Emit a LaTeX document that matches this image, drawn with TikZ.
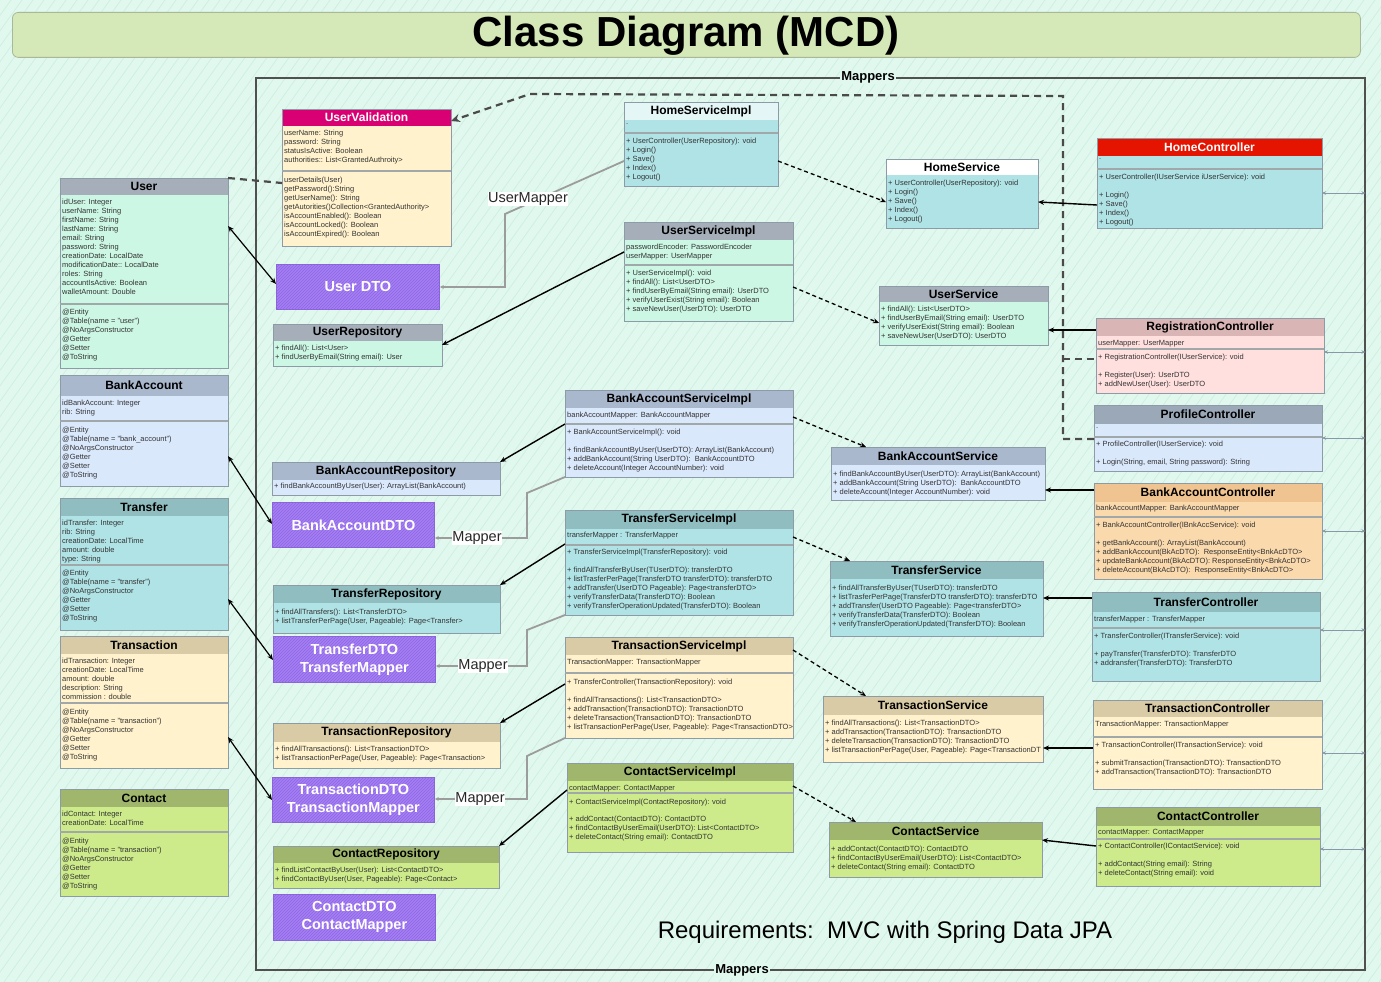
\documentclass[tikz,border=0pt]{standalone}
\usepackage{fontspec}
\setmainfont{Liberation Sans}
\usetikzlibrary{arrows.meta,patterns,calc}

\definecolor{cBg}{HTML}{E1F8EF}
\definecolor{cBgL}{HTML}{CDEFE0}
\definecolor{cTitle}{HTML}{D5E8B8}
\definecolor{cTitleB}{HTML}{A8B898}
\definecolor{cBorder}{HTML}{8C9BA5}
\definecolor{cSep}{HTML}{A0A8AA}
\definecolor{cText}{HTML}{333333}
\definecolor{cGreyH}{HTML}{A5AEB9}
\definecolor{cBlueH}{HTML}{A9B8CD}
\definecolor{cSlateH}{HTML}{9AA8B7}
\definecolor{cTealH}{HTML}{90BDBF}
\definecolor{cTanH}{HTML}{D9CBA5}
\definecolor{cOliveH}{HTML}{9FB66C}
\definecolor{cOrangeH}{HTML}{F0C490}
\definecolor{cPinkH}{HTML}{D9B6B5}
\definecolor{cRed}{HTML}{E51400}
\definecolor{cMag}{HTML}{D80073}
\definecolor{cHsiH}{HTML}{E4F6F6}
\definecolor{bMint}{HTML}{CDF7E5}
\definecolor{bBlue}{HTML}{DAE8FC}
\definecolor{bCyan}{HTML}{B0E3E6}
\definecolor{bYellow}{HTML}{FFF2CC}
\definecolor{bGreen}{HTML}{CDEB8B}
\definecolor{bOrange}{HTML}{FAD9AD}
\definecolor{bPink}{HTML}{FFE0DF}
\definecolor{cDto}{HTML}{A47EF3}
\definecolor{cDtoL}{HTML}{8F66E6}
\definecolor{cDtoB}{HTML}{8A64D6}
\definecolor{cDark}{HTML}{4A4A4A}
\definecolor{cMapL}{HTML}{9C9C9C}
\definecolor{cRArr}{HTML}{8898A8}
\definecolor{cFrame}{HTML}{505050}

\tikzset{
  boxborder/.style={draw=cBorder, line width=0.6pt},
  hdr/.style={anchor=north west, inner sep=0pt, outer sep=0pt, font=\fontsize{12}{13}\selectfont\bfseries, text=black},
  bodytxt/.style={anchor=north west, inner sep=0pt, align=left, font=\fontsize{7.5}{9}\selectfont, text=cText},
  sepst/.style={draw=cSep, line width=1.3pt},
  dto/.style={anchor=north west, draw=cDtoB, line width=0.8pt, fill=cDto,
    postaction={pattern=north east lines, pattern color=cDtoL},
    text=white, font=\fontsize{14.5}{18}\selectfont\bfseries, align=center, inner sep=0pt},
  dbl/.style={{Stealth[length=6pt,width=5pt]}-{Stealth[length=6pt,width=5pt]}, line width=1.2pt, draw=black},
  dep/.style={-{Stealth[length=6pt,width=5pt]}, dash pattern=on 4pt off 3pt, line width=1.3pt, draw=black},
  assoc/.style={-{Stealth[length=6pt,width=5pt]}, line width=1.4pt, draw=black},
  bigdash/.style={draw=cDark, line width=2.2pt, dash pattern=on 7pt off 5pt},
  mapline/.style={draw=cMapL, line width=1.8pt, -{Stealth[length=4pt,width=4pt]}},
  maplab/.style={fill=white, inner sep=0.5pt, font=\fontsize{14.5}{16}\selectfont, text=black!85},
  rarrow/.style={draw=cRArr, line width=1pt, {Stealth[length=4pt,width=3.5pt]}-{Stealth[length=4pt,width=3.5pt]}},
}

% name x1 y1 x2 y2 headerbottom headerstyle bodycolor title
\newcommand\umlcls[9]{%
  \node[fill=#8, anchor=north west, inner sep=0pt, outer sep=0pt,
        minimum width={(#4-#2)*1pt}, minimum height={(#5-#3)*1pt}] (#1) at (#2,#3) {};
  \node[hdr, #7, minimum width={(#4-#2)*1pt}, minimum height={(#6-#3)*1pt}] (#1-h) at (#2,#3) {#9};
  \draw[boxborder] (#1.north west) rectangle (#1.south east);
}
\newcommand\umltxt[4]{\node[bodytxt] (#1) at (#2+2,#3-3.2) {#4};}
\newcommand\umlsep[3]{\draw[sepst] (#1,#3) -- (#2,#3);}
\newcommand\umldto[6]{\node[dto, minimum width={(#4-#2)*1pt}, minimum height={(#5-#3)*1pt}] (#1) at (#2,#3) {#6};}

\begin{document}
\begin{tikzpicture}[x=1pt,y=-1pt]
\useasboundingbox (0,0) rectangle (1381,982);
\fill[cBg] (0,0) rectangle (1381,982);
\begin{scope}
  \clip (0,0) rectangle (1381,982);
  \foreach \i in {0,11,...,2100} {\draw[cBgL, line width=0.7pt] (\i-700,982) -- (\i,0);}
\end{scope}

% title
\node[draw=cTitleB, line width=0.8pt, fill=cTitle, rounded corners=6pt, anchor=north west,
      minimum width=1348pt, minimum height=45pt, inner sep=0pt] (title) at (12,12) {};
\node[font=\fontsize{42}{46}\selectfont\bfseries] (titletext) at (686,36) {Class Diagram (MCD)};

% frame
\node[draw=cFrame, line width=1.5pt, anchor=north west, inner sep=0pt,
      minimum width=1109pt, minimum height=892pt] (frame) at (255,77) {};

% ---------- entities ----------
\umlcls{user}{60}{178}{228}{368}{195}{fill=cGreyH}{bMint}{User}
\umltxt{user-a}{60}{202}{idUser: Integer\\userName: String\\firstName: String\\lastName: String\\email: String\\password: String\\creationDate: LocalDate\\modificationDate:: LocalDate\\roles: String\\accountIsActive: Boolean\\walletAmount: Double}
\umlsep{60}{228}{304}
\umltxt{user-b}{60}{312}{@Entity\\@Table(name = "user")\\@NoArgsConstructor\\@Getter\\@Setter\\@ToString}

\umlcls{ba}{60}{375}{228}{486}{396}{fill=cBlueH}{bBlue}{BankAccount}
\umltxt{ba-a}{60}{403}{idBankAccount: Integer\\rib: String}
\umlsep{60}{228}{421}
\umltxt{ba-b}{60}{430}{@Entity\\@Table(name = "bank\_account")\\@NoArgsConstructor\\@Getter\\@Setter\\@ToString}

\umlcls{tr}{60}{498}{228}{630}{516}{fill=cTealH}{bCyan}{Transfer}
\umltxt{tr-a}{60}{523}{idTransfer: Integer\\rib: String\\creationDate: LocalTime\\amount: double\\type: String}
\umlsep{60}{228}{565}
\umltxt{tr-b}{60}{573}{@Entity\\@Table(name = "transfer")\\@NoArgsConstructor\\@Getter\\@Setter\\@ToString}

\umlcls{tx}{60}{636}{228}{768}{654}{fill=cTanH}{bYellow}{Transaction}
\umltxt{tx-a}{60}{661}{idTransaction: Integer\\creationDate: LocalTime\\amount: double\\description: String\\commission : double}
\umlsep{60}{228}{703}
\umltxt{tx-b}{60}{712}{@Entity\\@Table(name = "transaction")\\@NoArgsConstructor\\@Getter\\@Setter\\@ToString}

\umlcls{ct}{60}{789}{228}{896}{807}{fill=cOliveH}{bGreen}{Contact}
\umltxt{ct-a}{60}{814}{idContact: Integer\\creationDate: LocalTime}
\umlsep{60}{228}{832}
\umltxt{ct-b}{60}{841}{@Entity\\@Table(name = "transaction")\\@NoArgsConstructor\\@Getter\\@Setter\\@ToString}

% ---------- user column ----------
\umlcls{uval}{282}{109}{451}{246}{126}{fill=cMag,text=white}{bYellow}{UserValidation}
\umltxt{uval-a}{282}{133}{userName: String\\password: String\\statusIsActive: Boolean\\authorities:: List<GrantedAuthroity>}
\umlsep{282}{451}{171}
\umltxt{uval-b}{282}{180}{userDetails(User)\\getPassword():String\\getUserName(): String\\getAutorities()Collection<GrantedAuthority>\\isAccountEnabled(): Boolean\\isAccountLocked(): Boolean\\isAccountExpired(): Boolean}

\umldto{udto}{276}{264}{439}{309}{User DTO}

\umlcls{urepo}{273}{324}{442}{366}{341}{fill=cGreyH}{bMint}{UserRepository}
\umltxt{urepo-a}{273}{348}{+ findAll(): List<User>\\+ findUserByEmail(String email): User}

\umlcls{hsi}{624}{102}{778}{186}{120}{fill=cHsiH}{bCyan}{HomeServiceImpl}
\umltxt{hsi-a}{624}{127}{.}
\umlsep{624}{778}{133}
\umltxt{hsi-b}{624}{141}{+ UserController(UserRepository): void\\+ Login()\\+ Save()\\+ Index()\\+ Logout()}

\umlcls{usi}{624}{222}{793}{321}{240}{fill=cGreyH}{bMint}{UserServiceImpl}
\umltxt{usi-a}{624}{247}{passwordEncoder: PasswordEncoder\\userMapper: UserMapper}
\umlsep{624}{793}{265}
\umltxt{usi-b}{624}{273}{+ UserServiceImpl(): void\\+ findAll(): List<UserDTO>\\+ findUserByEmail(String email): UserDTO\\+ verifyUserExist(String email): Boolean\\+ saveNewUser(UserDTO): UserDTO}

\umlcls{hs}{886}{159}{1038}{228}{175}{fill=white}{bCyan}{HomeService}
\umltxt{hs-a}{886}{183}{+ UserController(UserRepository): void\\+ Login()\\+ Save()\\+ Index()\\+ Logout()}

\umlcls{hc}{1097}{138}{1322}{228}{156}{fill=cRed,text=white}{bCyan}{HomeController}
\umltxt{hc-a}{1097}{162}{.}
\umlsep{1097}{1322}{169}
\umltxt{hc-b}{1097}{177}{+ UserController(IUserService iUserService): void\\[9pt]+ Login()\\+ Save()\\+ Index()\\+ Logout()}

\umlcls{us}{879}{286}{1048}{345}{302}{fill=cGreyH}{bMint}{UserService}
\umltxt{us-a}{879}{309}{+ findAll(): List<UserDTO>\\+ findUserByEmail(String email): UserDTO\\+ verifyUserExist(String email): Boolean\\+ saveNewUser(UserDTO): UserDTO}

\umlcls{rc}{1096}{318}{1324}{393}{336}{fill=cPinkH}{bPink}{RegistrationController}
\umltxt{rc-a}{1096}{343}{userMapper: UserMapper}
\umlsep{1096}{1324}{349}
\umltxt{rc-b}{1096}{357}{+ RegistrationController(IUserService): void\\[9pt]+ Register(User): UserDTO\\+ addNewUser(User): UserDTO}

% ---------- bank account ----------
\umlcls{basi}{565}{390}{793}{477}{408}{fill=cBlueH}{bBlue}{BankAccountServiceImpl}
\umltxt{basi-a}{565}{415}{bankAccountMapper: BankAccountMapper}
\umlsep{565}{793}{424}
\umltxt{basi-b}{565}{432}{+ BankAccountServiceImpl(): void\\[9pt]+ findBankAccountByUser(UserDTO): ArrayList(BankAccount)\\+ addBankAccount(String UserDTO):\ \ BankAccountDTO\\+ deleteAccount(Integer AccountNumber): void}

\umlcls{barepo}{272}{462}{500}{495}{480}{fill=cBlueH}{bBlue}{BankAccountRepository}
\umltxt{barepo-a}{272}{486}{+ findBankAccountByUser(User): ArrayList(BankAccount)}

\umldto{badto}{272}{502}{434}{547}{BankAccountDTO}

\umlcls{bas}{831}{447}{1045}{500}{465}{fill=cBlueH}{bBlue}{BankAccountService}
\umltxt{bas-a}{831}{474}{+ findBankAccountByUser(UserDTO): ArrayList(BankAccount)\\+ addBankAccount(String UserDTO):\ \ BankAccountDTO\\+ deleteAccount(Integer AccountNumber): void}

\umlcls{pc}{1094}{405}{1322}{471}{424}{fill=cSlateH}{bBlue}{ProfileController}
\umltxt{pc-a}{1094}{431}{.}
\umlsep{1094}{1322}{437}
\umltxt{pc-b}{1094}{444}{+ ProfileController(IUserService): void\\[9pt]+ Login(String, email, String password): String}

\umlcls{bac}{1094}{483}{1322}{579}{502}{fill=cOrangeH}{bOrange}{BankAccountController}
\umltxt{bac-a}{1094}{508}{bankAccountMapper: BankAccountMapper}
\umlsep{1094}{1322}{517}
\umltxt{bac-b}{1094}{525}{+ BankAccountController(IBnkAccService): void\\[9pt]+ getBankAccount(): ArrayList(BankAccount)\\+ addBankAccount(BkAcDTO):\ \ ResponseEntity<BnkAcDTO>\\+ updateBankAccount(BkAcDTO): ResponseEntity<BnkAcDTO>\\+ deleteAccount(BkAcDTO):\ \ ResponseEntity<BnkAcDTO>}

% ---------- transfer ----------
\umlcls{tsi}{565}{510}{793}{615}{529}{fill=cTealH}{bCyan}{TransferServiceImpl}
\umltxt{tsi-a}{565}{535}{transferMapper : TransferMapper}
\umlsep{565}{793}{545}
\umltxt{tsi-b}{565}{552}{+ TransferServiceImpl(TransferRepository): void\\[9pt]+ findAllTransferByUser(TUserDTO): transferDTO\\+ listTrasferPerPage(TransferDTO transferDTO): transferDTO\\+ addTransfer(UserDTO Pageable): Page<transferDTO>\\+ verifyTransferData(TransferDTO): Boolean\\+ verifyTransferOperationUpdated(TransferDTO): Boolean}

\umlcls{trepo}{273}{585}{500}{633}{603}{fill=cTealH}{bCyan}{TransferRepository}
\umltxt{trepo-a}{273}{612}{+ findAllTransfers(): List<TransferDTO>\\+ listTransferPerPage(User, Pageable): Page<Transfer>}

\umldto{tdto}{273}{636}{435}{682}{TransferDTO\\TransferMapper}

\umlcls{ts}{830}{561}{1043}{636}{579}{fill=cTealH}{bCyan}{TransferService}
\umltxt{ts-a}{830}{588}{+ findAllTransferByUser(TUserDTO): transferDTO\\+ listTrasferPerPage(TransferDTO transferDTO): transferDTO\\+ addTransfer(UserDTO Pageable): Page<transferDTO>\\+ verifyTransferData(TransferDTO): Boolean\\+ verifyTransferOperationUpdated(TransferDTO): Boolean}

\umlcls{tc}{1092}{592}{1320}{681}{612}{fill=cTealH}{bCyan}{TransferController}
\umltxt{tc-a}{1092}{619}{transferMapper : TransferMapper}
\umlsep{1092}{1320}{628}
\umltxt{tc-b}{1092}{636}{+ TransferController(ITransferService): void\\[9pt]+ payTransfer(TransferDTO): TransferDTO\\+ addransfer(TransferDTO): TransferDTO}

% ---------- transaction ----------
\umlcls{xsi}{565}{637}{793}{738}{655}{fill=cTanH}{bYellow}{TransactionServiceImpl}
\umltxt{xsi-a}{565}{662}{TransactionMapper: TransactionMapper}
\umlsep{565}{793}{673}
\umltxt{xsi-b}{565}{682}{+ TransferController(TransactionRepository): void\\[9pt]+ findAllTransactions(): List<TransactionDTO>\\+ addTransaction(TransactionDTO): TransactionDTO\\+ deleteTransaction(TransactionDTO): TransactionDTO\\+ listTransactionPerPage(User, Pageable): Page<TransactionDTO>}

\umlcls{xrepo}{273}{723}{500}{768}{742}{fill=cTanH}{bYellow}{TransactionRepository}
\umltxt{xrepo-a}{273}{749}{+ findAllTransactions(): List<TransactionDTO>\\+ listTransactionPerPage(User, Pageable): Page<Transaction>}

\umldto{xdto}{272}{777}{434}{822}{TransactionDTO\\TransactionMapper}

\umlcls{xs}{823}{696}{1043}{762}{715}{fill=cTanH}{bYellow}{TransactionService}
\umltxt{xs-a}{823}{723}{+ findAllTransactions(): List<TransactionDTO>\\+ addTransaction(TransactionDTO): TransactionDTO\\+ deleteTransaction(TransactionDTO): TransactionDTO\\+ listTransactionPerPage(User, Pageable): Page<TransactionDT}

\umlcls{xc}{1093}{700}{1322}{789}{717}{fill=cTanH}{bYellow}{TransactionController}
\umltxt{xc-a}{1093}{724}{TransactionMapper: TransactionMapper}
\umlsep{1093}{1322}{737}
\umltxt{xc-b}{1093}{745}{+ TransactionController(ITransactionService): void\\[9pt]+ submitTransaction(TransactionDTO): TransactionDTO\\+ addTransaction(TransactionDTO): TransactionDTO}

% ---------- contact ----------
\umlcls{csi}{567}{763}{793}{852}{781}{fill=cOliveH}{bGreen}{ContactServiceImpl}
\umltxt{csi-a}{567}{788}{contactMapper: ContactMapper}
\umlsep{567}{793}{793}
\umltxt{csi-b}{567}{802}{+ ContactServiceImpl(ContactRepository): void\\[8pt]+ addContact(ContactDTO): ContactDTO\\+ findContactByUserEmail(UserDTO): List<ContactDTO>\\+ deleteContact(String email): ContactDTO}

\umlcls{crepo}{273}{846}{499}{888}{863}{fill=cOliveH}{bGreen}{ContactRepository}
\umltxt{crepo-a}{273}{870}{+ findListContactByUser(User): List<ContactDTO>\\+ findContactByUser(User, Pageable): Page<Contact>}

\umldto{cdto}{273}{894}{435}{940}{ContactDTO\\ContactMapper}

\umlcls{cs}{829}{822}{1042}{877}{840}{fill=cOliveH}{bGreen}{ContactService}
\umltxt{cs-a}{829}{849}{+ addContact(ContactDTO): ContactDTO\\+ findContactByUserEmail(UserDTO): List<ContactDTO>\\+ deleteContact(String email): ContactDTO}

\umlcls{cc}{1096}{807}{1320}{886}{826}{fill=cOliveH}{bGreen}{ContactController}
\umltxt{cc-a}{1096}{832}{contactMapper: ContactMapper}
\umlsep{1096}{1320}{839}
\umltxt{cc-b}{1096}{846}{+ ContactController(IContactService): void\\[9pt]+ addContact(String email): String\\+ deleteContact(String email): void}

% ---------- connectors ----------
% entity <-> DTO
\draw[dbl] (user.east |- 0,226) -- (udto.west |- 0,284);
\draw[dbl] (ba.east |- 0,456) -- (badto.west |- 0,524);
\draw[dbl] (tr.east |- 0,599) -- (tdto.west |- 0,660);
\draw[dbl] (tx.east |- 0,737) -- (xdto.west |- 0,800);

% User - UserValidation
\draw[bigdash] (user.north east) -- (uval.west |- 0,183);
% controllers -> UserValidation
\draw[bigdash, -{Stealth[length=9pt,width=8pt]}] (pc.west |- 0,439) -- (1063,439) -- (1063,96) -- (530,94) -- (uval.east |- 0,121);
\draw[bigdash] (1063,359) -- (rc.west |- 0,359);

% impl -> service (dashed)
\draw[dep] (hsi.east |- 0,161) -- (hs.west |- 0,202);
\draw[dep] (usi.east |- 0,287) -- (us.west |- 0,323);
\draw[dep] (basi.east |- 0,417) -- (bas.north -| 866,0);
\draw[dep] (tsi.east |- 0,537) -- (ts.north -| 850,0);
\draw[dep] (xsi.east |- 0,650) -- (xs.north -| 866,0);
\draw[dep] (csi.east |- 0,786) -- (cs.north -| 856,0);

% controller -> service
\draw[assoc] (hc.west |- 0,205) -- (hs.east |- 0,202);
\draw[assoc] (rc.west |- 0,330) -- (us.east |- 0,330);
\draw[assoc] (bac.west |- 0,490) -- (bas.east |- 0,490);
\draw[assoc] (tc.west |- 0,598) -- (ts.east |- 0,598);
\draw[assoc] (xc.west |- 0,748) -- (xs.east |- 0,748);
\draw[assoc] (cc.west |- 0,846) -- (cs.east |- 0,840);

% impl -> repository
\draw[assoc] (usi.west |- 0,252) -- (urepo.east |- 0,345);
\draw[assoc] (basi.west |- 0,424) -- (barepo.north east);
\draw[assoc] (tsi.west |- 0,544) -- (trepo.north east);
\draw[assoc] (xsi.west |- 0,684) -- (xrepo.north east);
\draw[assoc] (csi.west |- 0,790) -- (crepo.north east);

% mapper lines
\draw[mapline] (hsi.west |- 0,161) -- (505,214) -- (505,287) -- (udto.east |- 0,287);
\node[maplab] (lum) at (528,199) {UserMapper};
\draw[mapline] (basi.south west) -- (527,493) -- (527,538) -- (badto.east |- 0,538);
\node[maplab] (lbm) at (477,538) {Mapper};
\draw[mapline] (tsi.south west) -- (527,630) -- (527,666) -- (tdto.east |- 0,666);
\node[maplab] (ltm) at (483,666) {Mapper};
\draw[mapline] (xsi.south west) -- (527,756) -- (527,799) -- (xdto.east |- 0,799);
\node[maplab] (lxm) at (480,799) {Mapper};

% controllers <-> frame
\draw[rarrow] (hc.east |- 0,193) -- (frame.east |- 0,193);
\draw[rarrow] (rc.east |- 0,352) -- (frame.east |- 0,352);
\draw[rarrow] (pc.east |- 0,438) -- (frame.east |- 0,438);
\draw[rarrow] (bac.east |- 0,531) -- (frame.east |- 0,531);
\draw[rarrow] (tc.east |- 0,630) -- (frame.east |- 0,630);
\draw[rarrow] (xc.east |- 0,753) -- (frame.east |- 0,753);
\draw[rarrow] (cc.east |- 0,849) -- (frame.east |- 0,849);

% frame labels
\node[fill=cBg, inner sep=1.5pt, font=\fontsize{13}{15}\selectfont\bfseries] (maptop) at (frame.north -| 868,0) {Mappers};
\node[fill=cBg, inner sep=1.5pt, font=\fontsize{13}{15}\selectfont\bfseries] (mapbot) at (frame.south -| 742,0) {Mappers};

% requirements
\node[font=\fontsize{24}{28}\selectfont] (req) at (885,932) {Requirements:\ \ MVC with Spring Data JPA};
\end{tikzpicture}
\end{document}
